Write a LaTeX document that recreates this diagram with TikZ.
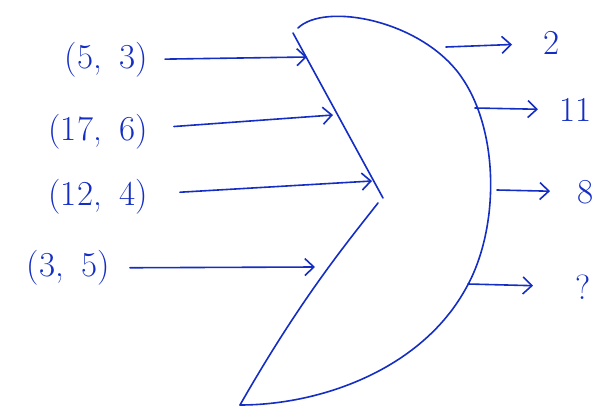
\documentclass[tikz,border=0pt]{standalone}
\usetikzlibrary{arrows.meta}
\definecolor{inkblue}{RGB}{20,45,195}

\begin{document}
\begin{tikzpicture}[x=1pt,y=-1pt,
  every node/.style={font=\fontsize{35}{38}\selectfont, text=inkblue, inner sep=3pt},
  ink/.style={draw=inkblue, line width=1.6pt, line cap=round, line join=round},
  flow/.style={ink, -{Straight Barb[length=9pt,width=17pt,line width=1.6pt]}}]
  \useasboundingbox (0,0) rectangle (595,407);

  % the crescent
  \draw[ink] (298,28) .. controls (325,2) and (420,20) .. (460,75)
    .. controls (500,130) and (500,230) .. (465,290)
    .. controls (420,370) and (320,405) .. (240,405);
  \draw[ink] (293,33) -- (383,198);
  \draw[ink] (378,203) .. controls (345,245) and (300,300) .. (240,405);

  % inputs
  \node[anchor=east] (in1) at (151,60) {(5,\enspace3)};
  \node[anchor=east] (in2) at (151,132) {(17,\enspace6)};
  \node[anchor=east] (in3) at (151,197) {(12,\enspace4)};
  \node[anchor=east] (in4) at (113,268) {(3,\enspace5)};
  \coordinate (i1) at (307,57);
  \coordinate (i2) at (333,115);
  \coordinate (i3) at (372,181);
  \coordinate (i4) at (315,267);
  \draw[flow, shorten <=14pt] (in1) -- (i1);
  \draw[flow, shorten <=23pt] (in2) -- (i2);
  \draw[flow, shorten <=29pt] (in3) -- (i3);
  \draw[flow, shorten <=17pt] (in4) -- (i4);

  % outputs
  \coordinate (o1) at (446,47);
  \coordinate (o2) at (475,108);
  \coordinate (o3) at (497,190);
  \coordinate (o4) at (468,284);
  \node[anchor=west] (out1) at (540,43) {2};
  \node[anchor=west] (out2) at (556,110) {11};
  \node[anchor=west] (out3) at (574,192) {8};
  \node[anchor=west] (out4) at (572,287) {?};
  \draw[flow, shorten >=28pt] (o1) -- (out1);
  \draw[flow, shorten >=18pt] (o2) -- (out2);
  \draw[flow, shorten >=24pt] (o3) -- (out3);
  \draw[flow, shorten >=39pt] (o4) -- (out4);
\end{tikzpicture}
\end{document}
